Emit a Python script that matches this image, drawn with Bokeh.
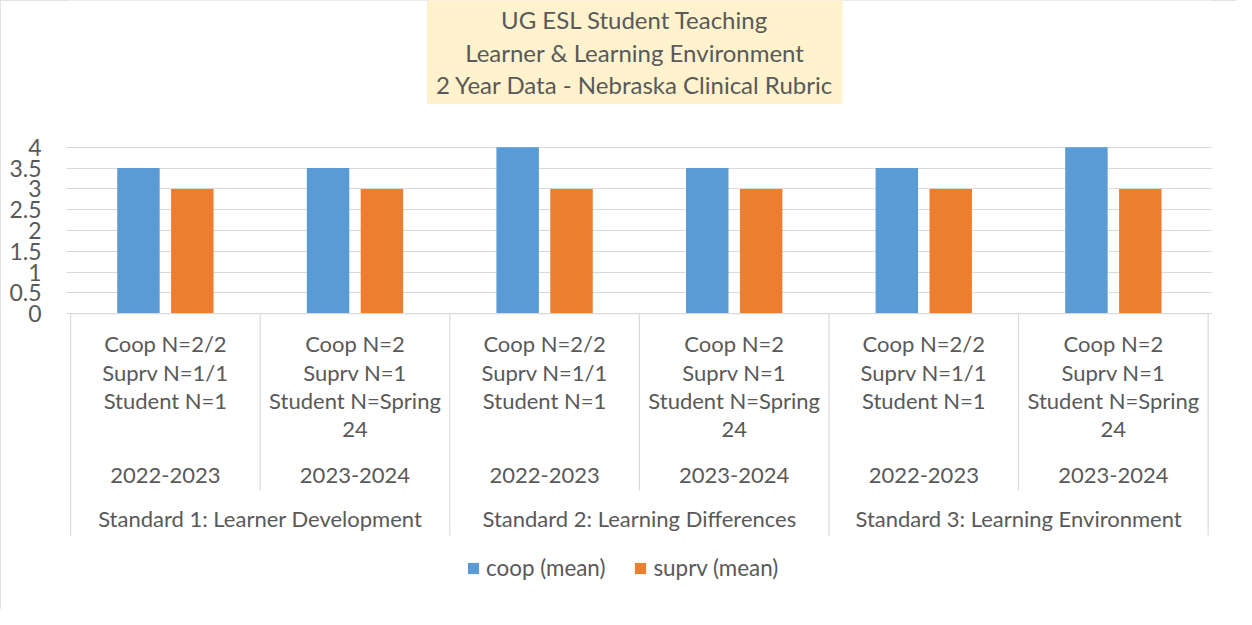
from bokeh.plotting import figure
from bokeh.models import Range1d, FixedTicker, Legend, LegendItem
from bokeh.core.properties import value
from bokeh.embed import file_html
from bokeh.resources import INLINE

# ---------------- data ----------------
standards = ["Standard 1: Learner Development",
             "Standard 2: Learning Differences",
             "Standard 3: Learning Environment"]
years = ["2022-2023", "2023-2024"]
sample_notes = ["Coop N=2/2\nSuprv N=1/1\nStudent N=1",
                "Coop N=2\nSuprv N=1\nStudent N=Spring\n24"]
coop_mean = [3.5, 3.5, 4.0, 3.5, 3.5, 4.0]
suprv_mean = [3.0, 3.0, 3.0, 3.0, 3.0, 3.0]
y_ticks = [0, 0.5, 1, 1.5, 2, 2.5, 3, 3.5, 4]
title_lines = ["UG ESL Student Teaching",
               "Learner & Learning Environment",
               "2 Year Data - Nebraska Clinical Rubric"]
series_names = ["coop (mean)", "suprv (mean)"]

# ---------------- style / layout ----------------
FONT = value("Lato")
TXT = "#595959"
GRID = "#D9D9D9"
BLUE = "#5B9BD5"
ORANGE = "#ED7D31"
FS_CAT = "22px"
FS_TITLE = "24px"
FS_TICK = "23px"
FS_LEG = "22.4px"

W, H = 1236, 609
SX, SY = W / 1252, H / 625          # reference -> figure scale

X0 = 71.0 * SX                       # pixel of x = 0
X6 = 1223.3 * SX                     # pixel of x = 6
ZERO_PX = 321.3 * SY                 # pixel of y = 0
TOP_PX = 150.7 * SY                  # pixel of y = 4
n_cat = len(standards) * len(years)
PXX = (X6 - X0) / n_cat
PXY = (ZERO_PX - TOP_PX) / 4.0
LEFT, RIGHT = 66, 24


def dx(px):
    return (px - X0) / PXX


def dy(px):
    return (ZERO_PX - px) / PXY


p = figure(width=W, height=H, output_backend="svg", toolbar_location=None,
           x_range=Range1d(dx(LEFT), dx(W - RIGHT)),
           y_range=Range1d(dy(H), dy(0)),
           x_axis_type=None, min_border_left=LEFT, min_border_right=RIGHT,
           min_border_top=0, min_border_bottom=0)
p.outline_line_color = None
p.background_fill_color = "white"
p.border_fill_color = "white"
p.styles = {"outline": "1px solid #D9D9D9", "outline-offset": "-1px"}

ticker = FixedTicker(ticks=y_ticks)
p.yaxis.ticker = ticker
p.yaxis.axis_line_color = None
p.yaxis.major_tick_line_color = None
p.yaxis.minor_tick_line_color = None
p.yaxis.major_label_standoff = 19
p.yaxis.major_label_text_font = "Lato"
p.yaxis.major_label_text_font_size = FS_TICK
p.yaxis.major_label_text_color = TXT
p.ygrid.ticker = ticker
p.ygrid.grid_line_color = GRID
p.ygrid.grid_line_width = 1.2
p.xgrid.grid_line_color = None

centers = [i + 0.5 for i in range(n_cat)]
off = 0.1421
bw = 0.2239
r1 = p.vbar(x=[c - off for c in centers], top=coop_mean, width=bw,
            fill_color=BLUE, line_color=None)
r2 = p.vbar(x=[c + off for c in centers], top=suprv_mean, width=bw,
            fill_color=ORANGE, line_color=None)

# category table lines
p.segment(x0=[0], y0=[0], x1=[n_cat], y1=[0], line_color=GRID, line_width=1.2)
inner_b = dy(503 * SY)
outer_b = dy(549 * SY)
bx = list(range(n_cat + 1))
by = [outer_b if b % len(years) == 0 else inner_b for b in bx]
p.segment(x0=bx, y0=[0] * len(bx), x1=bx, y1=by, line_color=GRID, line_width=1.2)

# inner labels (one text per line)
first_px = 352 * SY
step_px = 29.3 * SY
lx, ly, lt = [], [], []
for i in range(n_cat):
    lines = sample_notes[i % len(years)].split("\n")
    for k, s in enumerate(lines):
        lx.append(centers[i]); ly.append(dy(first_px + k * step_px)); lt.append(s)
p.text(x=lx, y=ly, text=lt, text_align="center", text_baseline="middle",
       text_font=FONT, text_font_size=FS_CAT, text_color=TXT)

p.text(x=centers, y=[dy(487 * SY)] * n_cat,
       text=[years[i % len(years)] for i in range(n_cat)],
       text_align="center", text_baseline="middle",
       text_font=FONT, text_font_size=FS_CAT, text_color=TXT)

std_x = [len(years) * j + len(years) / 2 for j in range(len(standards))]
p.text(x=std_x, y=[dy(532 * SY)] * len(standards), text=standards,
       text_align="center", text_baseline="middle",
       text_font=FONT, text_font_size=FS_CAT, text_color=TXT)

# title box
p.quad(left=[dx(432 * SX)], right=[dx(853 * SX)], top=[dy(-5)], bottom=[dy(106 * SY)],
       fill_color="#FFF2CC", line_color=None)
tcx = dx(642.5 * SX)
p.text(x=[tcx] * 3, y=[dy(20 * SY), dy(53 * SY), dy(86 * SY)], text=title_lines,
       text_align="center", text_baseline="middle",
       text_font=FONT, text_font_size=FS_TITLE, text_color=TXT)

legend = Legend(items=[LegendItem(label=series_names[0], renderers=[r1]),
                       LegendItem(label=series_names[1], renderers=[r2])],
                orientation="horizontal",
                location=(int(473 * SX - LEFT), int(H - 586 * SY - 10)),
                padding=0, margin=0, spacing=28, label_standoff=6,
                glyph_width=14, glyph_height=14, label_height=20,
                border_line_color=None, background_fill_alpha=0,
                label_text_font="Lato", label_text_font_size=FS_LEG,
                label_text_color=TXT)
p.add_layout(legend)

open("out.html", "w").write(file_html(p, INLINE))
